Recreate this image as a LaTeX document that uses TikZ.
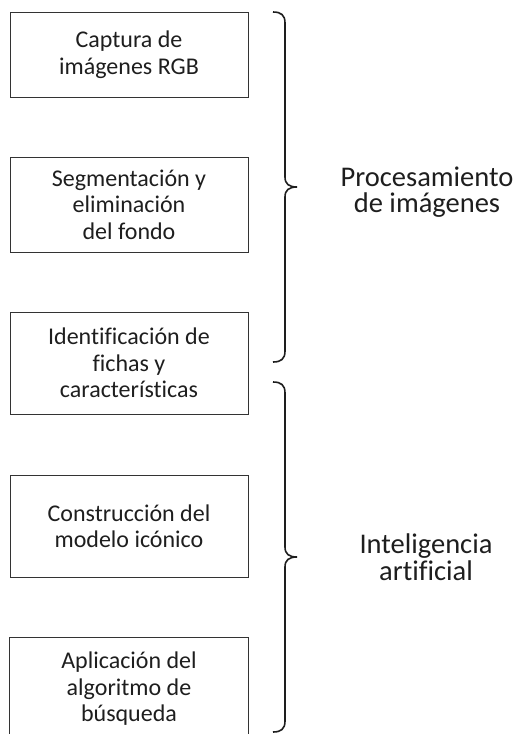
\documentclass[tikz,border=0pt]{standalone}
\usepackage{fontspec}
\setmainfont[Ligatures=CommonOff]{Carlito}
\definecolor{boxgray}{HTML}{333333}
\definecolor{txtgray}{HTML}{1E1E1E}
\begin{document}
\begin{tikzpicture}[x=1pt,y=-1pt,
  stepbox/.style={draw=boxgray, line width=1pt, minimum width=238pt, minimum height=#1,
    align=center, font=\fontsize{24}{26.5}\selectfont, text=txtgray, inner sep=0pt},
  grouplabel/.style={align=center, font=\fontsize{28.5}{26.5}\selectfont, text=txtgray, inner sep=0pt},
  boxline/.style={draw=boxgray, line width=1pt},
  bracepath/.style={draw=txtgray, line width=1.6pt}]
\useasboundingbox (0,0) rectangle (517,734);
\node[stepbox=85pt]  (b1) at (129,54.5) {Captura de\\imágenes RGB};
\node[stepbox=95pt]  (b2) at (129,204.5) {Segmentación y\\eliminación\\del fondo};
\node[stepbox=102pt] (b3) at (129,363) {Identificación de\\fichas y\\características};
\node[stepbox=102pt] (b4) at (129,526) {Construcción del\\modelo icónico};
\node[stepbox=102pt, draw=none] (b5) at (129,689) {Aplicación del\\algoritmo de\\búsqueda};
\draw[boxline] (b5.south west) -- (b5.north west) -- (b5.north east) -- (b5.south east);
% braces
\draw[bracepath] (273,12) .. controls (281,12) and (285,15) .. (285,23) -- (285,177)
  .. controls (285,184) and (289,187) .. (297,187) .. controls (289,187) and (285,190) .. (285,197)
  -- (285,351) .. controls (285,359) and (281,362) .. (273,362);
\draw[bracepath] (273,382) .. controls (281,382) and (285,385) .. (285,393) -- (285,547)
  .. controls (285,554) and (289,557) .. (297,557) .. controls (289,557) and (285,560) .. (285,567)
  -- (285,721) .. controls (285,729) and (281,732) .. (273,732);
\node[grouplabel] (g1) at (427,192) {Procesamiento\\de imágenes};
\node[grouplabel] (g2) at (426,557) {Inteligencia\\artificial};
\end{tikzpicture}
\end{document}
